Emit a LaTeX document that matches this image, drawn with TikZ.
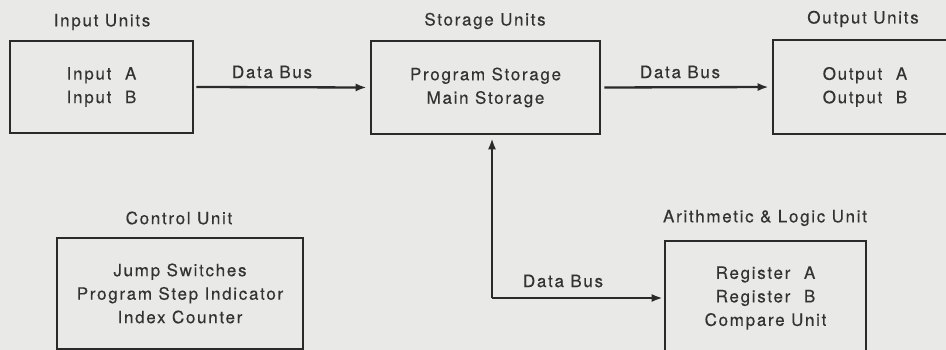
\documentclass[tikz,border=0pt]{standalone}
\usepackage{fontspec}
\setmainfont{TeX Gyre Heros}[LetterSpace=10,FakeBold=0.35]
\usetikzlibrary{arrows.meta}
\definecolor{bg}{HTML}{E9E9E7}
\definecolor{ink}{HTML}{2A2A2A}
\definecolor{txt}{HTML}{333333}
\tikzset{
  unitbox/.style={draw=ink, line width=2.6pt, rectangle, inner sep=0pt, align=center,
    text=txt, font=\fontsize{17}{23.5}\selectfont},
  title/.style={text=txt, inner sep=0pt, font=\fontsize{17}{23.5}\selectfont},
  buslabel/.style={text=txt, inner sep=0pt, font=\fontsize{17}{23.5}\selectfont},
  bus/.style={draw=ink, line width=2.3pt, -{Latex[length=11pt,width=8pt]}}
}
\begin{document}
\begin{tikzpicture}[x=1pt,y=-1pt]
\useasboundingbox (0,0) rectangle (946,350);
\fill[bg] (0,0) rectangle (946,350);
\clip (0,0) rectangle (946,350);
% boxes
\node[unitbox, minimum width=183pt, minimum height=92pt] (in) at (101.5,87) {Input\hspace{0.8em}A\\Input\hspace{0.8em}B};
\node[unitbox, minimum width=229pt, minimum height=93pt] (st) at (485.5,87.5) {Program Storage\\Main Storage};
\node[unitbox, minimum width=184pt, minimum height=94pt] (out) at (865,87) {Output\hspace{0.8em}A\\Output\hspace{0.8em}B};
\node[unitbox, minimum width=246pt, minimum height=111pt] (ctrl) at (180,293.5) {Jump Switches\\Program Step Indicator\\Index Counter};
\node[unitbox, minimum width=201pt, minimum height=114pt] (alu) at (765.5,298) {Register\hspace{0.8em}A\\Register\hspace{0.8em}B\\Compare Unit};
% titles
\node[title] (tin) at (102,22) {Input Units};
\node[title] (tst) at (485,21) {Storage Units};
\node[title] (tout) at (863,19) {Output Units};
\node[title] (tctrl) at (179,218) {Control Unit};
\node[title] (talu) at (765,218) {Arithmetic \& Logic Unit};
% connectors
\coordinate (c) at (492,298);
\draw[bus, shorten <=2pt, shorten >=3pt] (in.east) -- (st.west);
\draw[bus, shorten <=3pt, shorten >=3pt] (st.east) -- (out.west);
\draw[bus, shorten >=3pt] (c) -- (c |- st.south);
\draw[bus, shorten >=1pt] (c) -- (c -| alu.west);
% bus labels
\node[buslabel] (l1) at (272,72) {Data Bus};
\node[buslabel] (l2) at (680,72) {Data Bus};
\node[buslabel] (l3) at (563,281) {Data Bus};
\end{tikzpicture}
\end{document}
